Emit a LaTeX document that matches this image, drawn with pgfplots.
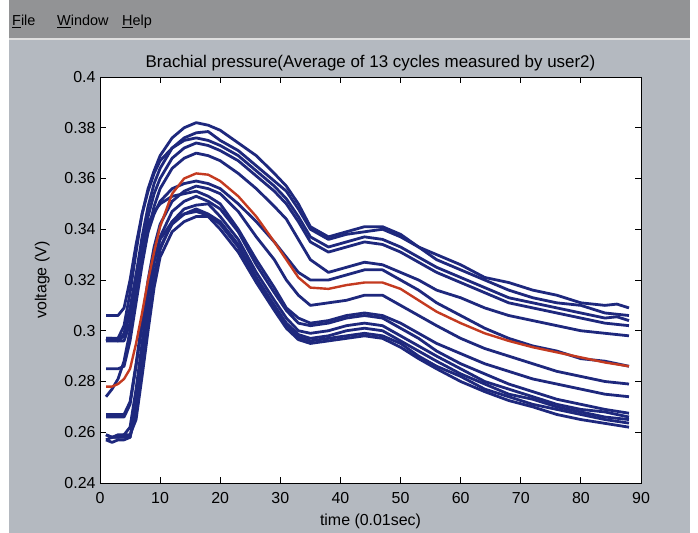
\documentclass[border=0pt]{standalone}
\usepackage{pgfplots}
\pgfplotsset{compat=1.18}
\usepackage{fontspec}
\setmainfont{Liberation Sans}
\definecolor{winbg}{RGB}{180,185,192}
\definecolor{menubg}{RGB}{146,147,149}
\definecolor{navy}{RGB}{30,40,125}
\definecolor{curvered}{RGB}{196,58,32}
\begin{document}
\begin{tikzpicture}
\useasboundingbox (0,0) rectangle (698bp,533bp);
\fill[white] (0,0) rectangle (698bp,533bp);
\fill[winbg] (9bp,0) rectangle (690bp,533bp);
\fill[menubg] (9bp,495bp) rectangle (690bp,533bp);
\draw[white!75!gray, line width=1.2bp] (9bp,494bp) -- (690bp,494bp);
\node[anchor=base west, inner sep=0pt, font=\fontsize{14.5}{17}\selectfont] at (12bp,507bp) {\underline{F}ile};
\node[anchor=base west, inner sep=0pt, font=\fontsize{14.5}{17}\selectfont] at (57bp,507bp) {\underline{W}indow};
\node[anchor=base west, inner sep=0pt, font=\fontsize{14.5}{17}\selectfont] at (122bp,507bp) {\underline{H}elp};
\begin{axis}[
  scale only axis, width=541bp, height=406bp,
  at={(100bp,50bp)}, anchor=south west,
  xmin=0, xmax=90, ymin=0.24, ymax=0.4,
  xtick={0,10,20,30,40,50,60,70,80,90},
  ytick={0.24,0.26,0.28,0.30,0.32,0.34,0.36,0.38,0.40},
  axis background/.style={fill=white},
  tick align=inside, xtick pos=both, ytick pos=both,
  major tick length=6bp,
  tick style={black, line width=0.8bp},
  tick label style={font=\fontsize{16}{18}\selectfont},
  xticklabel style={yshift=-6bp},
  yticklabel style={xshift=-1bp},
  /pgf/number format/assume math mode=true,
  yticklabel style={/pgf/number format/fixed,/pgf/number format/precision=2},
  title={Brachial pressure(Average of 13 cycles measured by user2)},
  title style={font=\fontsize{17}{19}\selectfont, yshift=-4bp},
  xlabel={time (0.01sec)}, ylabel={voltage (V)},
  label style={font=\fontsize{16}{18}\selectfont},
  xlabel style={yshift=-3bp},
  ylabel style={yshift=8bp},
  axis line style={black, line width=0.8bp},
  every axis plot/.append style={line width=2.8bp, line join=round, mark=none},
]
% upper group
\addplot[navy] coordinates {(1,0.297)(2,0.297)(3,0.297)(4,0.302)(5,0.315)(6,0.331)(7,0.346)(8,0.356)(9,0.363)(10,0.369)(12,0.376)(14,0.380)(16,0.382)(18,0.381)(20,0.379)(23,0.374)(26,0.369)(29,0.362)(31,0.357)(33,0.350)(35,0.341)(38,0.337)(41,0.339)(44,0.341)(47,0.341)(50,0.338)(53,0.333)(56,0.330)(60,0.326)(64,0.321)(68,0.319)(72,0.316)(76,0.314)(80,0.311)(84,0.310)(86,0.3105)(88,0.309)};
\addplot[navy] coordinates {(1,0.297)(2,0.297)(3,0.296)(4,0.298)(5,0.307)(6,0.322)(7,0.337)(8,0.349)(9,0.358)(10,0.364)(12,0.372)(14,0.376)(16,0.378)(18,0.3785)(20,0.375)(23,0.371)(26,0.365)(29,0.359)(31,0.355)(33,0.348)(35,0.340)(38,0.336)(41,0.338)(44,0.339)(47,0.340)(50,0.337)(53,0.333)(56,0.328)(60,0.324)(64,0.320)(68,0.316)(72,0.313)(76,0.311)(80,0.310)(84,0.307)(88,0.306)};
\addplot[navy] coordinates {(1,0.306)(2,0.306)(3,0.306)(4,0.309)(5,0.320)(6,0.334)(7,0.346)(8,0.355)(9,0.362)(10,0.367)(12,0.372)(14,0.375)(16,0.376)(18,0.375)(20,0.373)(23,0.369)(26,0.363)(29,0.357)(31,0.352)(33,0.345)(35,0.337)(38,0.333)(41,0.335)(44,0.337)(47,0.336)(50,0.333)(53,0.329)(56,0.325)(60,0.321)(64,0.317)(68,0.313)(72,0.311)(76,0.309)(80,0.307)(84,0.305)(86,0.3055)(88,0.304)};
\addplot[navy] coordinates {(1,0.296)(2,0.296)(3,0.296)(4,0.296)(5,0.303)(6,0.317)(7,0.332)(8,0.345)(9,0.354)(10,0.360)(12,0.368)(14,0.372)(16,0.374)(18,0.373)(20,0.371)(23,0.367)(26,0.361)(29,0.355)(31,0.350)(33,0.343)(35,0.335)(38,0.331)(41,0.333)(44,0.335)(47,0.334)(50,0.331)(53,0.327)(56,0.323)(60,0.319)(64,0.315)(68,0.311)(72,0.309)(76,0.307)(80,0.305)(84,0.303)(88,0.302)};
\addplot[navy] coordinates {(1,0.285)(2,0.285)(3,0.285)(4,0.286)(5,0.296)(6,0.311)(7,0.326)(8,0.339)(9,0.349)(10,0.356)(12,0.364)(14,0.368)(16,0.370)(18,0.369)(20,0.367)(23,0.362)(26,0.356)(29,0.349)(31,0.344)(33,0.336)(35,0.328)(38,0.323)(41,0.325)(44,0.327)(47,0.326)(50,0.323)(53,0.320)(56,0.316)(60,0.313)(64,0.309)(68,0.306)(72,0.304)(76,0.302)(80,0.300)(84,0.299)(88,0.298)};
% middle group
\addplot[navy] coordinates {(1,0.274)(2,0.277)(3,0.281)(4,0.288)(5,0.300)(6,0.315)(7,0.329)(8,0.339)(9,0.346)(10,0.351)(12,0.356)(14,0.358)(16,0.359)(18,0.358)(20,0.356)(23,0.350)(26,0.343)(29,0.335)(31,0.329)(33,0.323)(35,0.320)(38,0.320)(41,0.322)(44,0.324)(47,0.324)(50,0.320)(53,0.316)(56,0.311)(60,0.306)(64,0.301)(68,0.297)(72,0.294)(76,0.292)(80,0.289)(84,0.288)(88,0.286)};
\addplot[navy] coordinates {(1,0.267)(2,0.267)(3,0.267)(4,0.267)(5,0.272)(6,0.287)(7,0.304)(8,0.320)(9,0.333)(10,0.342)(12,0.351)(14,0.355)(16,0.357)(18,0.356)(20,0.354)(23,0.347)(26,0.337)(29,0.328)(31,0.320)(33,0.314)(35,0.310)(38,0.311)(41,0.312)(44,0.314)(47,0.314)(50,0.310)(53,0.306)(56,0.302)(60,0.297)(64,0.293)(68,0.290)(72,0.287)(76,0.284)(80,0.282)(84,0.280)(88,0.279)};
\addplot[navy] coordinates {(1,0.296)(2,0.297)(3,0.296)(4,0.299)(5,0.309)(6,0.322)(7,0.334)(8,0.342)(9,0.347)(10,0.350)(12,0.353)(14,0.354)(16,0.355)(18,0.353)(20,0.350)(23,0.340)(26,0.328)(29,0.317)(31,0.309)(33,0.305)(35,0.303)(38,0.304)(41,0.306)(44,0.307)(47,0.306)(50,0.303)(53,0.299)(56,0.295)(60,0.291)(64,0.287)(68,0.284)(72,0.281)(76,0.279)(80,0.277)(84,0.275)(88,0.274)};
% lower group
\addplot[navy] coordinates {(1,0.259)(2,0.258)(3,0.259)(4,0.259)(5,0.262)(6,0.277)(7,0.295)(8,0.313)(9,0.327)(10,0.337)(12,0.347)(14,0.351)(16,0.353)(18,0.351)(20,0.348)(23,0.339)(26,0.326)(29,0.315)(31,0.308)(33,0.303)(35,0.302)(38,0.303)(41,0.305)(44,0.306)(47,0.305)(50,0.301)(53,0.297)(56,0.292)(60,0.287)(64,0.283)(68,0.279)(72,0.276)(76,0.273)(80,0.271)(84,0.269)(88,0.2675)};
\addplot[navy] coordinates {(1,0.257)(2,0.258)(3,0.258)(4,0.258)(5,0.258)(6,0.268)(7,0.286)(8,0.304)(9,0.320)(10,0.332)(12,0.343)(14,0.348)(16,0.3495)(18,0.350)(20,0.345)(23,0.336)(26,0.323)(29,0.312)(31,0.305)(33,0.300)(35,0.299)(38,0.300)(41,0.302)(44,0.303)(47,0.302)(50,0.298)(53,0.294)(56,0.290)(60,0.285)(64,0.280)(68,0.277)(72,0.274)(76,0.271)(80,0.269)(84,0.268)(88,0.266)};
\addplot[navy] coordinates {(1,0.257)(2,0.256)(3,0.257)(4,0.257)(5,0.258)(6,0.271)(7,0.289)(8,0.307)(9,0.322)(10,0.333)(12,0.342)(14,0.346)(16,0.348)(18,0.346)(20,0.343)(23,0.334)(26,0.321)(29,0.310)(31,0.303)(33,0.2985)(35,0.297)(38,0.298)(41,0.300)(44,0.301)(47,0.300)(50,0.296)(53,0.292)(56,0.288)(60,0.283)(64,0.279)(68,0.275)(72,0.273)(76,0.270)(80,0.268)(84,0.266)(88,0.265)};
\addplot[navy] coordinates {(1,0.266)(2,0.266)(3,0.266)(4,0.266)(5,0.271)(6,0.286)(7,0.302)(8,0.317)(9,0.328)(10,0.336)(12,0.343)(14,0.346)(16,0.347)(18,0.3455)(20,0.342)(23,0.333)(26,0.320)(29,0.309)(31,0.302)(33,0.2975)(35,0.296)(38,0.297)(41,0.298)(44,0.299)(47,0.298)(50,0.295)(53,0.290)(56,0.286)(60,0.282)(64,0.277)(68,0.274)(72,0.271)(76,0.269)(80,0.267)(84,0.265)(88,0.2636)};
\addplot[navy] coordinates {(1,0.259)(2,0.258)(3,0.258)(4,0.259)(5,0.259)(6,0.265)(7,0.282)(8,0.300)(9,0.317)(10,0.329)(12,0.339)(14,0.343)(16,0.345)(18,0.345)(20,0.340)(23,0.331)(26,0.319)(29,0.308)(31,0.301)(33,0.2965)(35,0.295)(38,0.296)(41,0.297)(44,0.298)(47,0.297)(50,0.2935)(53,0.289)(56,0.285)(60,0.280)(64,0.276)(68,0.2725)(72,0.270)(76,0.267)(80,0.265)(84,0.2635)(88,0.262)};
% average
\addplot[curvered, line width=2.4bp] coordinates {(1,0.278)(2,0.278)(3,0.279)(4,0.281)(5,0.285)(6,0.295)(7,0.307)(8,0.320)(9,0.331)(10,0.341)(12,0.354)(14,0.360)(16,0.362)(18,0.3615)(20,0.359)(23,0.353)(26,0.345)(29,0.335)(31,0.328)(33,0.321)(35,0.317)(38,0.3165)(41,0.318)(44,0.319)(47,0.319)(50,0.3165)(53,0.312)(56,0.3075)(60,0.303)(64,0.299)(68,0.296)(72,0.2935)(76,0.2915)(80,0.2895)(84,0.2875)(88,0.286)};
\end{axis}
\end{tikzpicture}
\end{document}
